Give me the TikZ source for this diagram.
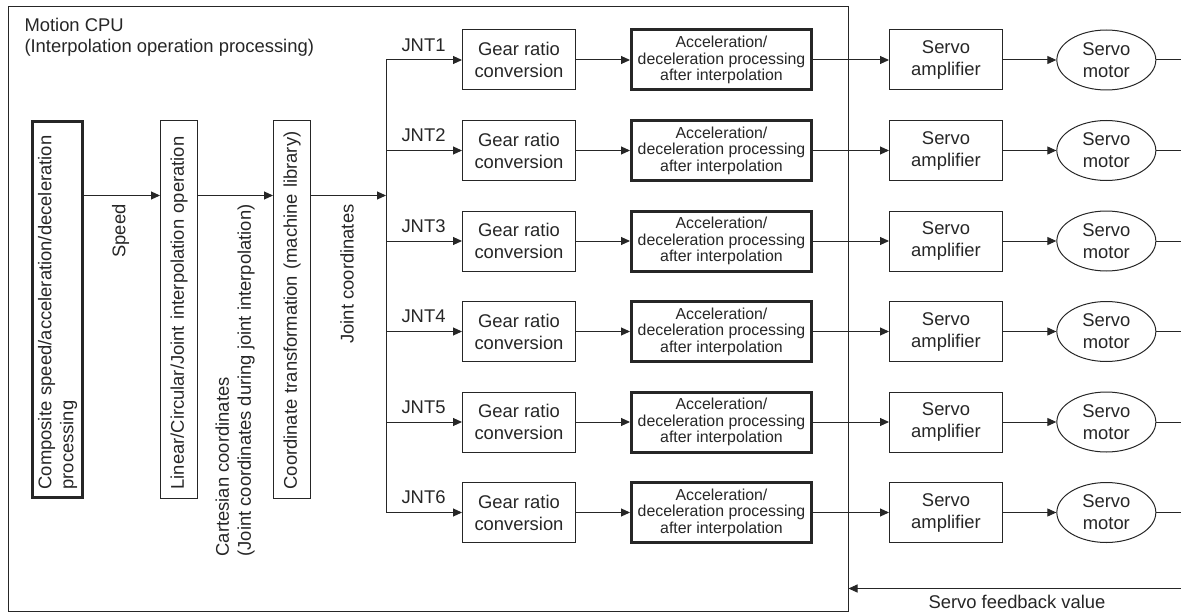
\documentclass[tikz,border=0pt]{standalone}
\usepackage{fontspec}
\setmainfont{Liberation Sans}
\usetikzlibrary{arrows.meta, positioning, shapes.geometric}

\begin{document}
\begin{tikzpicture}[
      x=0.75pt, y=-0.75pt,
      line width=0.75pt, color=black!85,
      every node/.style={font=\fontsize{13.8}{16.5}\selectfont, inner sep=0pt},
      cpubox/.style={rectangle, draw, minimum width=630pt, minimum height=453pt},
      stage/.style={rectangle, draw, rotate=90, text width=270pt, inner xsep=6.5pt, align=left},
      gear/.style={rectangle, draw, minimum width=84.75pt, minimum height=45pt, align=center},
      accel/.style={rectangle, draw, line width=2.25pt, minimum width=135pt, minimum height=45pt, align=center, font=\fontsize{11.9}{12.4}\selectfont},
      amp/.style={gear},
      motor/.style={ellipse, draw, minimum width=74.25pt, minimum height=45pt, align=center},
      tag/.style={rotate=90, anchor=east, align=left},
      arrow/.style={-{Triangle[length=6.75pt, width=6pt]}}
    ]
    \useasboundingbox (0,0) rectangle (1181,613);

    % Motion CPU frame
    \node[cpubox] (cpu) at (428, 309) {};
    \node[anchor=north west, align=left, font=\fontsize{13.8}{15.75}\selectfont] (title) at (24, 18) {Motion CPU\\(Interpolation operation processing)};

    % Nodes
    \node[stage, line width=2.25pt, inner xsep=6pt, minimum height=37.5pt] (comp) at (57.5, 309.5) {Composite speed/acceleration/deceleration\\processing};
    \node[stage, minimum height=27.75pt] (lin) at (179, 309.5) {Linear/Circular/Joint interpolation operation};
    \node[stage, minimum height=27.75pt] (trans) at (292, 309.5) {Coordinate transformation (machine library)};

    \node[tag] (speed) at (120.5, 204) {Speed};
    \node[tag] (cart) at (235, 204) {Cartesian coordinates\\(Joint coordinates during joint interpolation)};
    \node[tag] (joint) at (347, 204) {Joint coordinates};

    \coordinate (tap) at (0, 195.5);
    \coordinate (bus) at (386, 0);
    \coordinate (edge) at (1181, 588.5);

    % Arrows
    \draw[arrow] (comp.south |- tap) -- (lin.north |- tap);
    \draw[arrow] (lin.south |- tap) -- (trans.north |- tap);
    \draw[arrow] (trans.south |- tap) -- (bus |- tap);

    % Joint axes
    \foreach \i in {1,...,6} {
      \node[gear] (gear\i) at (519, {60+90.5*(\i-1)}) {Gear ratio\\conversion};
      \node[accel, right=40.5pt of gear\i] (accel\i) {Acceleration/\\deceleration processing\\after interpolation};
      \node[amp, right=57pt of accel\i] (amp\i) {Servo\\amplifier};
      \node[motor, right=40pt of amp\i] (motor\i) {Servo\\motor};
      \node[above left=6pt and 12pt of gear\i.west] (jnt\i) {JNT\i};

      \draw[arrow] (bus |- gear\i.west) -- (gear\i.west);
      \draw[arrow] (gear\i.east) -- (accel\i.west);
      \draw[arrow] (accel\i.east) -- (amp\i.west);
      \draw[arrow] (amp\i.east) -- (motor\i.west);
      \draw (motor\i.east) -- (motor\i.east -| edge);
    }
    \draw (bus |- gear1.west) -- (bus |- gear6.west);

    % Feedback
    \draw[arrow] (edge) -- (cpu.east |- edge);
    \coordinate (fbmid) at (1017, 588.5);
    \node[below=4.5pt of fbmid] (fb) {Servo feedback value};

\end{tikzpicture}
\end{document}
